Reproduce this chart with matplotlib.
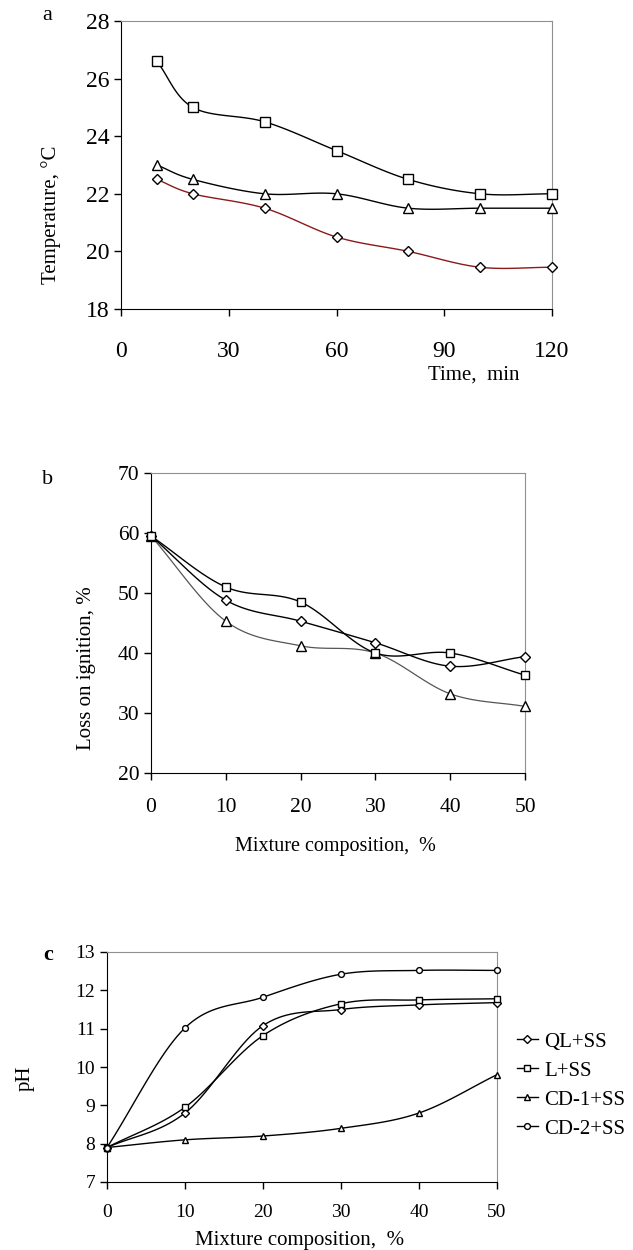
import numpy as np
import matplotlib.pyplot as plt

plt.rcParams['font.family'] = ['Liberation Serif', 'DejaVu Serif']

# ---- panel a: temperature vs time ----
time_min = [10, 20, 40, 60, 80, 100, 120]
temp_sq = [26.6, 25.0, 24.5, 23.5, 22.5, 22.0, 22.0]
temp_tri = [23.0, 22.5, 22.0, 22.0, 21.5, 21.5, 21.5]
temp_dia = [22.5, 22.0, 21.5, 20.5, 20.0, 19.45, 19.45]

# ---- panel b: loss on ignition vs mixture composition ----
mix_b = [0, 10, 20, 30, 40, 50]
loi_sq = [59.5, 51.0, 48.5, 40.0, 40.0, 36.3]
loi_dia = [59.5, 48.8, 45.3, 41.7, 37.8, 39.4]
loi_tri = [59.5, 45.3, 41.2, 40.0, 33.2, 31.1]

# ---- panel c: pH vs mixture composition ----
mix_c = [0, 10, 20, 30, 40, 50]
ph_ql = [7.9, 8.8, 11.08, 11.5, 11.62, 11.68]
ph_l = [7.9, 8.95, 10.82, 11.65, 11.75, 11.78]
ph_cd1 = [7.9, 8.1, 8.2, 8.4, 8.8, 9.8]
ph_cd2 = [7.9, 11.02, 11.82, 12.42, 12.52, 12.52]
legend_c = ['QL+SS', 'L+SS', 'CD-1+SS', 'CD-2+SS']


def smooth(x, y, n=20):
    # Excel-like smoothed line (Catmull-Rom through the points)
    x = np.asarray(x, float)
    y = np.asarray(y, float)
    px = np.concatenate([[2 * x[0] - x[1]], x, [2 * x[-1] - x[-2]]])
    py = np.concatenate([[2 * y[0] - y[1]], y, [2 * y[-1] - y[-2]]])
    xs, ys = [], []
    t = np.linspace(0, 1, n, endpoint=False)
    for i in range(1, len(px) - 2):
        for p, out in ((px, xs), (py, ys)):
            p0, p1, p2, p3 = p[i - 1], p[i], p[i + 1], p[i + 2]
            out.extend(0.5 * (2 * p1 + (-p0 + p2) * t
                              + (2 * p0 - 5 * p1 + 4 * p2 - p3) * t ** 2
                              + (-p0 + 3 * p1 - 3 * p2 + p3) * t ** 3))
    xs.append(x[-1])
    ys.append(y[-1])
    return np.array(xs), np.array(ys)


def series(ax, x, y, marker, color='black', ms=6, lw=1.0):
    sx, sy = smooth(x, y)
    ax.plot(sx, sy, color=color, lw=lw, zorder=2)
    ax.plot(x, y, linestyle='none', marker=marker, ms=ms, mfc='white',
            mec='black', mew=1.0, zorder=3, clip_on=False)


def style(ax, size):
    for s in ('top', 'right'):
        ax.spines[s].set_color('#909090')
    for s in ('left', 'bottom'):
        ax.spines[s].set_color('black')
    ax.tick_params(direction='out', length=5, width=1, labelsize=size,
                   top=False, right=False)


W, H = 633, 1250
fig = plt.figure(figsize=(W / 100, H / 100), dpi=100)


def box(l, r, t, b):
    return [l / W, 1 - b / H, (r - l) / W, (b - t) / H]


def label(x, y, s, size, **kw):
    fig.text(x / W, 1 - y / H, s, fontsize=size, ha='center', va='center', **kw)


# ---------------- a ----------------
ax1 = fig.add_axes(box(121, 552, 21, 309))
series(ax1, time_min, temp_sq, 's', ms=6.5)
series(ax1, time_min, temp_tri, '^', ms=7)
series(ax1, time_min, temp_dia, 'D', color='#8B1A1A', ms=5.5)
ax1.set_xlim(0, 120)
ax1.set_ylim(18, 28)
ax1.set_xticks([0, 30, 60, 90, 120])
ax1.set_yticks(range(18, 29, 2))
style(ax1, 17)
ax1.tick_params(axis='x', pad=18)
label(51, 215, 'Temperature, °C', 15, rotation=90)
fig.text(520 / W, 1 - 375 / H, 'Time,  min', fontsize=15, ha='right', va='center')
label(47, 15, 'a', 16)

# ---------------- b ----------------
ax2 = fig.add_axes(box(151, 525, 473, 773))
series(ax2, mix_b, loi_tri, '^', color='#555555', ms=6.5, lw=0.9)
series(ax2, mix_b, loi_dia, 'D', ms=5.5)
series(ax2, mix_b, loi_sq, 's', ms=6)
ax2.set_xlim(0, 50)
ax2.set_ylim(20, 70)
ax2.set_xticks(range(0, 51, 10))
ax2.set_yticks(range(20, 71, 10))
style(ax2, 15.5)
ax2.tick_params(axis='x', pad=13)
label(86, 668, 'Loss on ignition, %', 15, rotation=90)
label(335, 847, 'Mixture composition,  %', 14.5)
label(48, 480, 'b', 16)

# ---------------- c ----------------
ax3 = fig.add_axes(box(107, 497, 952, 1182))
handles = []
for y, m, ms in ((ph_ql, 'D', 4.2), (ph_l, 's', 4.5), (ph_cd1, '^', 4.8), (ph_cd2, 'o', 4.2)):
    series(ax3, mix_c, y, m, ms=ms, lw=1.0)
    h, = ax3.plot([], [], color='black', lw=1.0, marker=m, ms=ms,
                  mfc='white', mec='black')
    handles.append(h)
ax3.set_xlim(0, 50)
ax3.set_ylim(7, 13)
ax3.set_xticks(range(0, 51, 10))
ax3.set_yticks(range(7, 14))
style(ax3, 14)
ax3.tick_params(axis='x', pad=11)
label(25, 1078, 'pH', 15, rotation=90)
label(300, 1240, 'Mixture composition,  %', 15)
leg = ax3.legend(handles, legend_c, loc='center left', bbox_to_anchor=(1.03, 0.42),
                 frameon=False, fontsize=15, handlelength=1.0, handletextpad=0.3,
                 labelspacing=0.45, borderaxespad=0)
label(48, 955, 'c', 16, fontweight='bold')

fig.savefig('out.png', dpi=100)
